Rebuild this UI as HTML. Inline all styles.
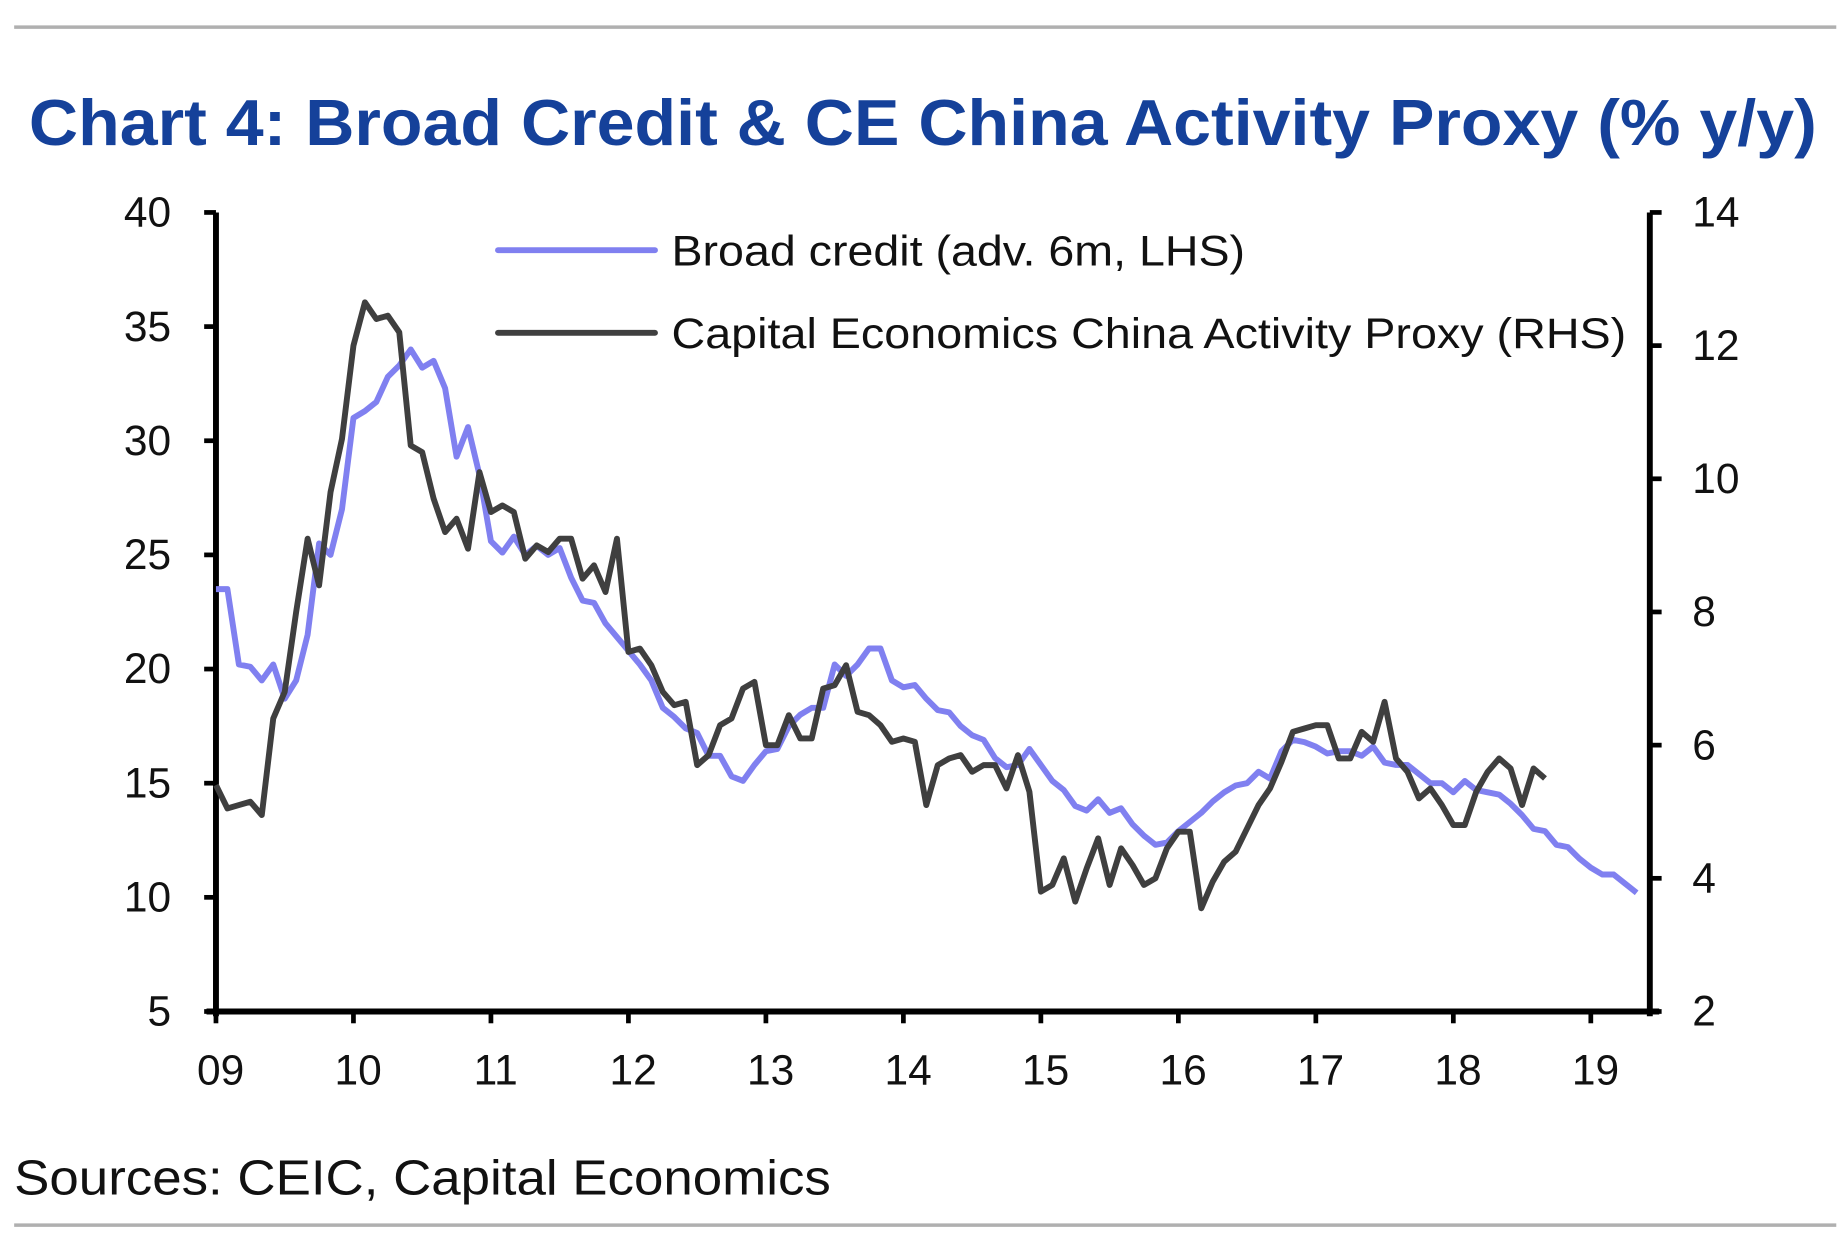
<!DOCTYPE html>
<html><head><meta charset="utf-8"><style>
html,body{margin:0;padding:0;background:#fff;}
svg{display:block;}
text{font-family:"Liberation Sans",sans-serif;}
</style></head><body>
<svg id="chart" width="1841" height="1244" viewBox="0 0 1560 1054" preserveAspectRatio="none" xmlns="http://www.w3.org/2000/svg">
<line x1="12" y1="23" x2="1556" y2="23" stroke="#b0b0b0" stroke-width="3"/>
<line x1="12" y1="1038" x2="1556" y2="1038" stroke="#b0b0b0" stroke-width="3"/>
<text x="782" y="123" text-anchor="middle" font-size="55" font-weight="bold" fill="#15419a" textLength="1515" lengthAdjust="spacingAndGlyphs">Chart 4: Broad Credit &amp; CE China Activity Proxy (% y/y)</text>
<text x="12" y="1012" font-size="42" fill="#111" textLength="692" lengthAdjust="spacingAndGlyphs">Sources: CEIC, Capital Economics</text>
<g id="axes"></g>
<g id="series"></g>
<g>
<line x1="422" y1="212" x2="555" y2="212" stroke="#8080f0" stroke-width="5" stroke-linecap="round"/>
<text x="569" y="225" font-size="36" fill="#111" textLength="486" lengthAdjust="spacingAndGlyphs">Broad credit (adv. 6m, LHS)</text>
<line x1="422" y1="282" x2="555" y2="282" stroke="#3f3f3f" stroke-width="5" stroke-linecap="round"/>
<text x="569" y="295" font-size="36" fill="#111" textLength="809" lengthAdjust="spacingAndGlyphs">Capital Economics China Activity Proxy (RHS)</text>
</g>
</svg>
<script>
const xLabels=["09","10","11","12","13","14","15","16","17","18","19"];
const lhsTicks=[5,10,15,20,25,30,35,40];
const rhsTicks=[2,4,6,8,10,12,14];
const broadCredit=[23.5,23.5,20.2,20.1,19.5,20.2,18.7,19.5,21.5,25.5,25,27,
31,31.3,31.7,32.8,33.3,34,33.2,33.5,32.3,29.3,30.6,28.5,
25.6,25.1,25.8,25,25.4,25,25.3,24,23,22.9,22,21.4,
20.8,20.2,19.5,18.3,17.9,17.4,17.2,16.2,16.2,15.3,15.1,15.8,
16.4,16.5,17.5,18,18.3,18.3,20.2,19.7,20.2,20.9,20.9,19.5,
19.2,19.3,18.7,18.2,18.1,17.5,17.1,16.9,16.1,15.7,15.8,16.5,
15.8,15.1,14.7,14,13.8,14.3,13.7,13.9,13.2,12.7,12.3,12.4,
12.9,13.3,13.7,14.2,14.6,14.9,15,15.5,15.2,16.4,16.9,16.8,
16.6,16.3,16.4,16.4,16.2,16.6,15.9,15.8,15.8,15.4,15,15,
14.6,15.1,14.7,14.6,14.5,14.1,13.6,13,12.9,12.3,12.2,11.7,
11.3,11,11,10.6,10.2];
const activityProxy=[5.4,5.05,5.1,5.15,4.95,6.4,6.8,8.0,9.1,8.4,9.8,10.6,
12.0,12.65,12.4,12.45,12.2,10.5,10.4,9.7,9.2,9.4,8.95,10.1,
9.5,9.6,9.5,8.8,9.0,8.9,9.1,9.1,8.5,8.7,8.3,9.1,
7.4,7.45,7.2,6.8,6.6,6.65,5.7,5.85,6.3,6.4,6.85,6.95,
6.0,6.0,6.45,6.1,6.1,6.85,6.9,7.2,6.5,6.45,6.3,6.05,
6.1,6.05,5.1,5.7,5.8,5.85,5.6,5.7,5.7,5.35,5.85,5.3,
3.8,3.9,4.3,3.65,4.15,4.6,3.9,4.45,4.2,3.9,4.0,4.45,
4.7,4.7,3.55,3.95,4.25,4.4,4.75,5.1,5.35,5.75,6.2,6.25,
6.3,6.3,5.8,5.8,6.2,6.05,6.65,5.8,5.6,5.2,5.35,5.1,
4.8,4.8,5.3,5.6,5.8,5.65,5.1,5.65,5.5];
const X0=183,X1=1398,Y0=857,Y1=180,YEAR=116.5;
const xM=m=>X0+m*YEAR/12;
const yL=v=>Y0-(v-5)/35*(Y0-Y1);
const yR=v=>Y0-(v-2)/12*(Y0-Y1);
const NS="http://www.w3.org/2000/svg";
function mk(tag,attrs,parent){const e=document.createElementNS(NS,tag);for(const k in attrs)e.setAttribute(k,attrs[k]);parent.appendChild(e);return e;}
const ax=document.getElementById('axes'),se=document.getElementById('series');
let e;
e=mk('line',{x1:X0,y1:Y1,x2:X0,y2:Y0+4,stroke:'#000','stroke-width':5},ax);


e=mk('line',{x1:X1,y1:Y1,x2:X1,y2:Y0+4,stroke:'#000','stroke-width':5},ax);


e=mk('line',{x1:X0-8,y1:Y0,x2:X1+8,y2:Y0,stroke:'#000','stroke-width':5},ax);


lhsTicks.forEach(v=>{const y=yL(v);
e=mk('line',{x1:X0-10,y1:y,x2:X0,y2:y,stroke:'#000','stroke-width':4},ax);


e=mk('text',{x:145,y:y+12,'text-anchor':'end','font-size':36,fill:'#111'},ax);e.textContent=v;

});
rhsTicks.forEach(v=>{const y=yR(v);
e=mk('line',{x1:X1,y1:y,x2:X1+10,y2:y,stroke:'#000','stroke-width':4},ax);


e=mk('text',{x:1434,y:y+12,'font-size':36,fill:'#111'},ax);e.textContent=v;

});
xLabels.forEach((l,i)=>{const x=X0+i*YEAR;
e=mk('line',{x1:x,y1:Y0,x2:x,y2:Y0+10,stroke:'#000','stroke-width':4},ax);


e=mk('text',{x:x+4,y:919,'text-anchor':'middle','font-size':36,fill:'#111'},ax);e.textContent=l;

});
e=mk('polyline',{points:broadCredit.map((v,i)=>xM(i)+','+yL(v)).join(' '),fill:'none',stroke:'#8080f0','stroke-width':5,'stroke-linejoin':'round'},se);


e=mk('polyline',{points:activityProxy.map((v,i)=>xM(i)+','+yR(v)).join(' '),fill:'none',stroke:'#3f3f3f','stroke-width':5,'stroke-linejoin':'round'},se);


</script>
</body></html>
